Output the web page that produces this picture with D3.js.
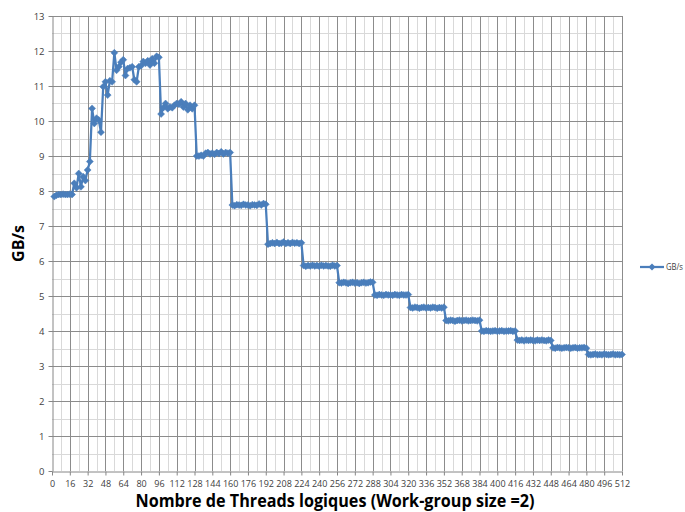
<!DOCTYPE html>
<html><head><meta charset="utf-8">
<script src="https://cdn.jsdelivr.net/npm/d3@7"></script>
<style>body{margin:0;background:#fff;}svg{display:block;}</style>
</head><body>
<svg id="c" width="685" height="512"></svg>
<script>
// threads (x categories): 2,4,...,512
const threads = d3.range(2, 513, 2);
const rampValues = [7.84,7.88,7.9,7.9,7.91,7.9,7.9,7.91,7.9,8.22,8.09,8.5,8.12,8.41,8.3,8.6,8.84,
  10.36,9.93,10.08,10.03,9.68,10.98,11.12,10.74,11.15,11.12,11.95,11.45,11.55,11.68,11.75,11.3,11.5,11.52,11.55,11.18,11.12,11.55,11.58,11.7,11.65,11.72,11.6,11.78,11.65,11.85,11.82];
const plateau1 = [10.2,10.38,10.5,10.35,10.4,10.38,10.45,10.5,10.48,10.55,10.4,10.5,10.32,10.45,10.35,10.45];
const plateau2 = [9.0,9.0,9.02,9.0,9.08,9.1,9.06,9.08,9.05,9.1,9.07,9.12,9.06,9.1,9.08,9.1];
const plateau3 = [7.6,7.58,7.61,7.6,7.59,7.62,7.6,7.6,7.58,7.61,7.6,7.59,7.63,7.6,7.64,7.62];
const plateau4 = [6.48,6.5,6.52,6.5,6.53,6.5,6.51,6.54,6.5,6.52,6.5,6.53,6.51,6.52,6.5,6.52];
const plateau5 = [5.87,5.85,5.87,5.86,5.88,5.86,5.87,5.85,5.88,5.86,5.87,5.86,5.85,5.88,5.86,5.87];
const plateau6 = [5.38,5.37,5.39,5.38,5.36,5.38,5.39,5.37,5.38,5.36,5.38,5.39,5.37,5.38,5.4,5.39];
const plateau7 = [5.03,5.02,5.04,5.03,5.02,5.04,5.03,5.03,5.02,5.04,5.03,5.02,5.04,5.03,5.03,5.04];
const plateau8 = [4.67,4.66,4.68,4.67,4.65,4.67,4.68,4.66,4.67,4.66,4.68,4.67,4.65,4.67,4.66,4.68];
const plateau9 = [4.3,4.29,4.31,4.3,4.28,4.3,4.31,4.29,4.3,4.31,4.29,4.3,4.31,4.3,4.29,4.31];
const plateau10 = [4.0,3.99,4.01,4.0,3.99,4.0,4.01,3.99,4.0,4.01,3.99,4.0,4.0,4.01,3.99,4.0];
const plateau11 = [3.74,3.73,3.74,3.72,3.74,3.73,3.74,3.73,3.72,3.74,3.73,3.74,3.73,3.72,3.74,3.73];
const plateau12 = [3.52,3.51,3.53,3.52,3.51,3.52,3.53,3.52,3.51,3.52,3.53,3.51,3.52,3.52,3.53,3.51];
const plateau13 = [3.33,3.32,3.33,3.34,3.32,3.33,3.32,3.34,3.33,3.32,3.33,3.34,3.32,3.33,3.32,3.33];
const gbps = [].concat(rampValues,plateau1,plateau2,plateau3,plateau4,plateau5,plateau6,plateau7,plateau8,plateau9,plateau10,plateau11,plateau12,plateau13);
const xTickValues = d3.range(0, 513, 16);
const yTickValues = d3.range(0, 14, 1);
const seriesName = "GB/s";
const xTitle = "Nombre de Threads logiques (Work-group size =2)";
const yTitle = "GB/s";

const data = threads.map((t,i)=>({x:t,y:gbps[i]}));
const svg = d3.select("#c");
const L=52, R=622, T=16, B=471;
const x = d3.scaleLinear().domain([0,512]).range([L,R]);
const y = d3.scaleLinear().domain([0,13]).range([B,T]);
const blue = "#4a7ebb";

const grid = svg.append("g");
grid.selectAll(".vmin").data(d3.range(8,512,16)).join("line")
  .attr("x1",d=>Math.round(x(d))+0.5).attr("x2",d=>Math.round(x(d))+0.5).attr("y1",T).attr("y2",B)
  .attr("stroke","#d9d9d9").attr("stroke-width",1);
grid.selectAll(".hmin").data(d3.range(0.5,13,1)).join("line")
  .attr("y1",d=>Math.round(y(d))+0.5).attr("y2",d=>Math.round(y(d))+0.5).attr("x1",L).attr("x2",R)
  .attr("stroke","#d9d9d9").attr("stroke-width",1);
grid.selectAll(".vmaj").data(xTickValues.slice(1)).join("line")
  .attr("x1",d=>Math.round(x(d))+0.5).attr("x2",d=>Math.round(x(d))+0.5).attr("y1",T).attr("y2",B)
  .attr("stroke","#8c8c8c").attr("stroke-width",1);
grid.selectAll(".hmaj").data(yTickValues.slice(1)).join("line")
  .attr("y1",d=>Math.round(y(d))+0.5).attr("y2",d=>Math.round(y(d))+0.5).attr("x1",L).attr("x2",R)
  .attr("stroke","#8c8c8c").attr("stroke-width",1);

const fontTick = "'Open Sans', 'Liberation Sans', sans-serif";
const xAxis = d3.axisBottom(x).tickValues(xTickValues).tickSize(4).tickSizeOuter(0).tickFormat(d3.format("d"));
const gx = svg.append("g").attr("transform",`translate(0,${Math.round(B)+0.5})`).call(xAxis);
gx.select(".domain").attr("stroke","#868686");
gx.selectAll(".tick line").attr("stroke","#868686");
gx.selectAll(".tick text").attr("fill","#404040").attr("font-size","9px").attr("font-family",fontTick).attr("dy","0.9em");

const yAxis = d3.axisLeft(y).tickValues(yTickValues).tickSize(4).tickSizeOuter(0);
const gy = svg.append("g").attr("transform",`translate(${L+0.5},0)`).call(yAxis);
gy.select(".domain").attr("stroke","#868686");
gy.selectAll(".tick line").attr("stroke","#868686");
gy.selectAll(".tick text").attr("fill","#404040").attr("font-size","9.5px").attr("font-family",fontTick).attr("x",-8);

const line = d3.line().x(d=>x(d.x)).y(d=>y(d.y));
svg.append("path").datum(data).attr("d",line).attr("fill","none").attr("stroke",blue).attr("stroke-width",2.25).attr("stroke-linejoin","round");
const diamond = "M0,-3.5L3.5,0L0,3.5L-3.5,0Z";
svg.append("g").selectAll("path").data(data).join("path")
  .attr("d",diamond).attr("transform",d=>`translate(${x(d.x)},${y(d.y)})`)
  .attr("fill",blue).attr("stroke",blue).attr("stroke-width",0.5);

// legend
const lg = svg.append("g").attr("transform","translate(640,267)");
lg.append("line").attr("x1",0).attr("x2",24).attr("y1",0).attr("y2",0).attr("stroke",blue).attr("stroke-width",2.25);
lg.append("path").attr("d",diamond).attr("transform","translate(12,0)").attr("fill",blue);
lg.append("text").attr("x",26).attr("y",3).attr("font-size","8.5px").attr("font-family",fontTick).attr("fill","#404040")
  .attr("textLength",17).attr("lengthAdjust","spacingAndGlyphs").text(seriesName);

// titles
svg.append("text").attr("x",335).attr("y",507).attr("text-anchor","middle")
  .attr("font-family","'Open Sans', 'Liberation Sans', sans-serif").attr("font-weight","bold").attr("font-size","17px")
  .attr("textLength",399).attr("lengthAdjust","spacingAndGlyphs").attr("fill","#000").text(xTitle);
svg.append("text").attr("transform",`translate(24,${(T+B)/2}) rotate(-90)`).attr("text-anchor","middle")
  .attr("font-family","'Open Sans', 'Liberation Sans', sans-serif").attr("font-weight","bold").attr("font-size","16px")
  .attr("fill","#000").text(yTitle);
</script>
</body></html>
